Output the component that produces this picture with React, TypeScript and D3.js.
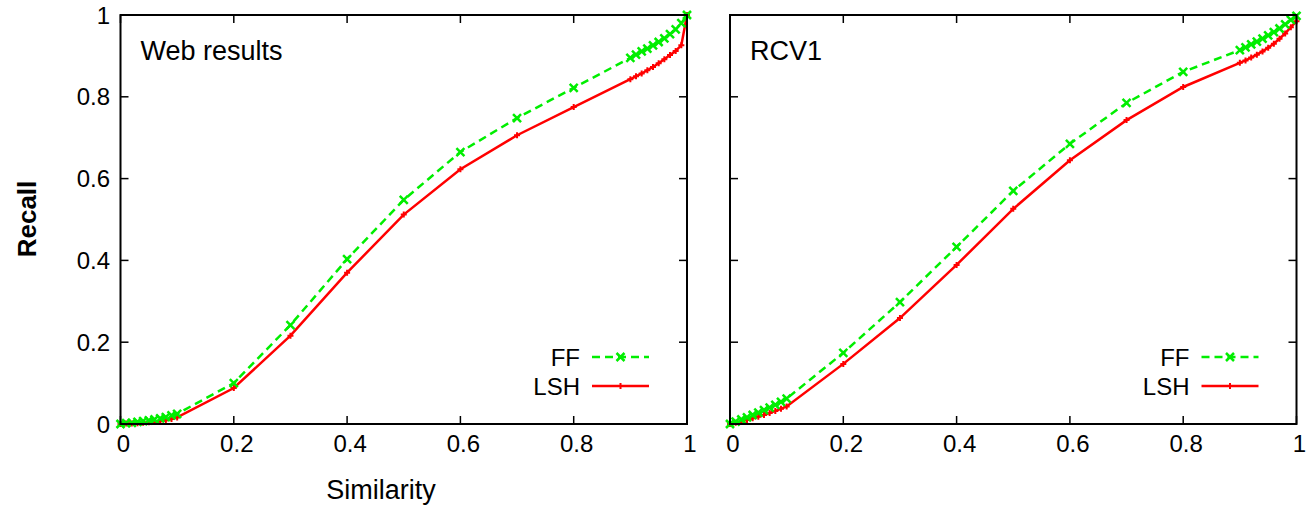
import React from "react";
import * as d3 from "d3";

// similarity thresholds (shared by all series)
const similarity = [
  0, 0.01, 0.02, 0.03, 0.04, 0.05, 0.06, 0.07, 0.08, 0.09, 0.1,
  0.2, 0.3, 0.4, 0.5, 0.6, 0.7, 0.8,
  0.9, 0.91, 0.92, 0.93, 0.94, 0.95, 0.96, 0.97, 0.98, 0.99, 1.0,
];

const webFF = [
  0, 0.002, 0.003, 0.005, 0.007, 0.009, 0.011, 0.014, 0.017, 0.021, 0.025,
  0.1, 0.242, 0.403, 0.548, 0.665, 0.748, 0.822,
  0.895, 0.903, 0.911, 0.918, 0.926, 0.934, 0.943, 0.953, 0.965, 0.98, 1.0,
];
const webLSH = [
  0, 0.001, 0.001, 0.002, 0.003, 0.004, 0.005, 0.007, 0.009, 0.012, 0.016,
  0.088, 0.216, 0.37, 0.512, 0.623, 0.706, 0.775,
  0.843, 0.85, 0.857, 0.865, 0.873, 0.882, 0.892, 0.902, 0.912, 0.926, 1.0,
];
const rcvFF = [
  0, 0.006, 0.011, 0.016, 0.022, 0.028, 0.034, 0.04, 0.047, 0.054, 0.062,
  0.174, 0.298, 0.433, 0.57, 0.685, 0.785, 0.861,
  0.914, 0.921, 0.928, 0.935, 0.942, 0.95, 0.958, 0.967, 0.977, 0.988, 0.998,
];
const rcvLSH = [
  0, 0.003, 0.006, 0.01, 0.014, 0.018, 0.022, 0.027, 0.032, 0.037, 0.043,
  0.147, 0.259, 0.389, 0.526, 0.645, 0.743, 0.824,
  0.883, 0.889, 0.896, 0.903, 0.911, 0.92, 0.93, 0.942, 0.955, 0.97, 0.985,
];

const ticks = [0, 0.2, 0.4, 0.6, 0.8, 1];
const tickLabels = ["0", "0.2", "0.4", "0.6", "0.8", "1"];

const panels = [
  { title: "Web results", ff: webFF, lsh: webLSH, left: 120.5, yLabels: true, xTitle: true },
  { title: "RCV1", ff: rcvFF, lsh: rcvLSH, left: 730, yLabels: false, xTitle: false },
];

const GREEN = "#00ee00";
const RED = "#ff0000";
const FONT = "'Liberation Sans', Arial, Helvetica, sans-serif";

const W = 566.5;
const TOP = 15;
const BOTTOM = 424;
const TICK = 8;

function Cross({ x, y }: { x: number; y: number }) {
  const s = 4;
  return (
    <path d={`M${x - s},${y - s}L${x + s},${y + s}M${x - s},${y + s}L${x + s},${y - s}`}
      stroke={GREEN} strokeWidth={2.5} />
  );
}

function Plus({ x, y }: { x: number; y: number }) {
  const s = 3;
  return (
    <path d={`M${x - s},${y}L${x + s},${y}M${x},${y - s}L${x},${y + s}`}
      stroke={RED} strokeWidth={2} />
  );
}

function Panel({ p }: { p: typeof panels[number] }) {
  const x = d3.scaleLinear().domain([0, 1]).range([p.left, p.left + W]);
  const y = d3.scaleLinear().domain([0, 1]).range([BOTTOM, TOP]);
  const line = d3.line<number>().x((_, i) => x(similarity[i])).y(d => y(d));
  const right = p.left + W;
  const legX = right - 95;

  return (
    <g>
      {/* ticks, mirrored on every side */}
      {ticks.map(t => (
        <g key={"t" + t} stroke="#000" strokeWidth={1.5}>
          <line x1={p.left} x2={p.left + TICK} y1={y(t)} y2={y(t)} />
          <line x1={right} x2={right - TICK} y1={y(t)} y2={y(t)} />
          <line x1={x(t)} x2={x(t)} y1={BOTTOM} y2={BOTTOM - TICK} />
          <line x1={x(t)} x2={x(t)} y1={TOP} y2={TOP + TICK} />
        </g>
      ))}
      {ticks.map((t, i) => (
        <text key={"xl" + t} x={x(t) + 3} y={452} textAnchor="middle"
          fontSize={24} fontFamily={FONT}>{tickLabels[i]}</text>
      ))}
      {p.yLabels && ticks.map((t, i) => (
        <text key={"yl" + t} x={110} y={y(t) + 8.5} textAnchor="end"
          fontSize={24} fontFamily={FONT}>{tickLabels[i]}</text>
      ))}

      {/* series */}
      <path d={line(p.lsh) ?? ""} fill="none" stroke={RED} strokeWidth={2.5} />
      {p.lsh.map((v, i) => <Plus key={"l" + i} x={x(similarity[i])} y={y(v)} />)}
      <path d={line(p.ff) ?? ""} fill="none" stroke={GREEN} strokeWidth={2.5}
        strokeDasharray="8,5" />
      {p.ff.map((v, i) => <Cross key={"f" + i} x={x(similarity[i])} y={y(v)} />)}

      {/* legend */}
      <text x={legX - 12} y={366} textAnchor="end" fontSize={24} fontFamily={FONT}>FF</text>
      <line x1={legX} x2={legX + 57} y1={357} y2={357} stroke={GREEN} strokeWidth={2.5}
        strokeDasharray="8,5" />
      <Cross x={legX + 28.5} y={357} />
      <text x={legX - 12} y={395} textAnchor="end" fontSize={24} fontFamily={FONT}>LSH</text>
      <line x1={legX} x2={legX + 57} y1={386} y2={386} stroke={RED} strokeWidth={2.5} />
      <Plus x={legX + 28.5} y={386} />

      <text x={p.left + 20} y={60} fontSize={27} fontFamily={FONT}>{p.title}</text>

      {/* frame */}
      <rect x={p.left} y={TOP} width={W} height={BOTTOM - TOP} fill="none"
        stroke="#000" strokeWidth={2} />

      {p.xTitle && (
        <text x={381} y={499} textAnchor="middle" fontSize={27} fontFamily={FONT}>Similarity</text>
      )}
    </g>
  );
}

export default function App() {
  return (
    <svg width={1315} height={505} style={{ position: "absolute", left: 0, top: 0, background: "#fff" }}>
      <rect width={1315} height={505} fill="#fff" />
      {panels.map(p => <Panel key={p.title} p={p} />)}
      <text transform="translate(36,219) rotate(-90)" textAnchor="middle" fontSize={26}
        fontWeight="bold" fontFamily={FONT}>Recall</text>
    </svg>
  );
}
